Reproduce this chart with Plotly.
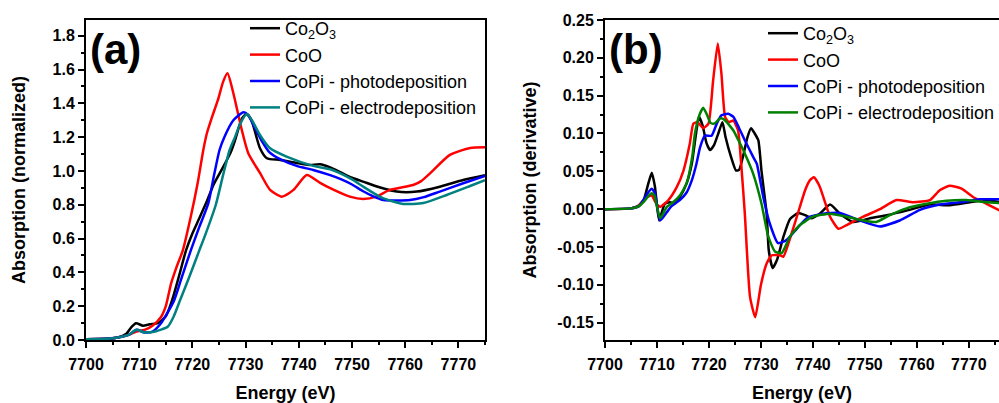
import plotly.graph_objects as go

# ---------------- Panel (a): normalized absorption ----------------
a_co2o3_x = [7700, 7704, 7706, 7707.5, 7708.5, 7709.4, 7710.7, 7712, 7713.5, 7715, 7716.2, 7717.5, 7718.8, 7720, 7721.3,
             7722.7, 7724, 7725.2, 7726.4, 7727.2, 7728, 7729.3, 7730.2, 7731.1, 7732.7, 7734, 7736.5, 7739.6, 7742,
             7744, 7746, 7748, 7750, 7752.1, 7755, 7758.4, 7762.2, 7766.5, 7770.9, 7775]
a_co2o3_y = [0.005, 0.008, 0.015, 0.035, 0.075, 0.099, 0.085, 0.093, 0.10, 0.14, 0.237, 0.38, 0.53, 0.63, 0.72,
             0.82, 0.92, 0.99, 1.06, 1.11, 1.18, 1.31, 1.337, 1.30, 1.134, 1.075, 1.065, 1.047, 1.035,
             1.04, 1.02, 0.99, 0.96, 0.937, 0.905, 0.878, 0.878, 0.907, 0.947, 0.975]

a_coo_x = [7700, 7704, 7706, 7708, 7709.5, 7711, 7712.5, 7714.1, 7715, 7716, 7717, 7718.2, 7719.7, 7721, 7722.05,
           7722.7, 7723.7, 7724.8, 7725.8, 7726.6, 7727.7, 7728.5, 7729.3, 7730.5, 7732.7, 7734.6, 7736.8, 7739,
           7741.5, 7744, 7746, 7749.6, 7752.1, 7754.6, 7757.1, 7761.5, 7763, 7764.7, 7768.4, 7772.2, 7775]
a_coo_y = [0.005, 0.008, 0.015, 0.03, 0.05, 0.06, 0.085, 0.136, 0.2, 0.335, 0.43, 0.53, 0.73, 0.93, 1.124,
           1.22, 1.32, 1.42, 1.53, 1.578, 1.46, 1.35, 1.24, 1.105, 0.988, 0.888, 0.848, 0.888,
           0.976, 0.93, 0.897, 0.848, 0.834, 0.848, 0.888, 0.917, 0.94, 0.987, 1.095, 1.136, 1.14]

a_photo_x = [7700, 7704, 7706, 7708, 7709.5, 7711, 7712.5, 7714.1, 7715.3, 7716.6, 7718, 7719.7, 7721.2, 7723,
             7724.1, 7725.1, 7726, 7727.7, 7729.6, 7730.5, 7731.5, 7733, 7734.5, 7736.5, 7739.6, 7742.7, 7745.9,
             7748, 7750, 7752.1, 7754, 7755.9, 7760.9, 7763.5, 7766.5, 7770.9, 7775]
a_photo_y = [0.005, 0.008, 0.015, 0.03, 0.06, 0.045, 0.05, 0.099, 0.16, 0.237, 0.37, 0.53, 0.66, 0.81,
             0.98, 1.124, 1.2, 1.30, 1.347, 1.33, 1.27, 1.18, 1.11, 1.07, 1.03, 1.006, 0.975,
             0.95, 0.92, 0.88, 0.85, 0.828, 0.828, 0.845, 0.878, 0.927, 0.97]

a_electro_x = [7700, 7704, 7706, 7708, 7709.5, 7711, 7713, 7715.4, 7716.5, 7717.7, 7719.5, 7721.3, 7722.4, 7724.4,
               7725.8, 7727, 7728, 7729, 7730.2, 7731.2, 7732.7, 7734.6, 7737.7, 7742.7, 7745.9, 7747.5, 7750,
               7752.1, 7754, 7755.9, 7759.7, 7763.4, 7767.8, 7772.2, 7775]
a_electro_y = [0.005, 0.008, 0.015, 0.03, 0.06, 0.045, 0.05, 0.08, 0.14, 0.237, 0.38, 0.53, 0.62, 0.8,
               0.98, 1.124, 1.2, 1.28, 1.337, 1.30, 1.213, 1.134, 1.085, 1.03, 1.01, 0.99, 0.95,
               0.907, 0.87, 0.838, 0.805, 0.81, 0.858, 0.911, 0.945]

# ---------------- Panel (b): derivative ----------------
b_co2o3_x = [7700, 7705, 7706.5, 7707.5, 7708.3, 7709, 7709.6, 7710.4, 7711.5, 7712.5, 7713.5, 7714.4, 7715.7, 7716.7,
             7717.6, 7718.1, 7718.8, 7719.5, 7720.2, 7721, 7721.8, 7722.6, 7723.2, 7724.2, 7725.2, 7725.8, 7726.6,
             7727.4, 7728.1, 7728.8, 7729.5, 7730.1, 7731.1, 7731.5, 7732.25, 7733.1, 7734.3, 7735.6, 7737.2,
             7738.5, 7739.7, 7741.3, 7743.3, 7745.2, 7747.8, 7751, 7754.2, 7758, 7762.5, 7766.3, 7770.2, 7773.4, 7776]
b_co2o3_y = [0, 0.001, 0.004, 0.013, 0.033, 0.048, 0.03, -0.015, 0.007, 0.009, 0.008, 0.016, 0.034, 0.06,
             0.104, 0.122, 0.11, 0.088, 0.078, 0.085, 0.1, 0.115, 0.095, 0.07, 0.051, 0.052, 0.071,
             0.095, 0.107, 0.1, 0.091, 0.051, -0.006, -0.054, -0.078, -0.067, -0.037, -0.013, -0.005,
             -0.008, -0.012, -0.006, 0.006, -0.006, -0.017, -0.012, -0.008, -0.002, 0.006, 0.005, 0.009, 0.012, 0.009]

b_coo_x = [7700, 7705, 7706.5, 7708, 7709, 7709.8, 7710.6, 7712.2, 7713.8, 7715.1, 7716.3, 7717, 7717.8, 7718.9,
           7719.9, 7720.8, 7721.7, 7722.4, 7723.1, 7723.8, 7724.7, 7725.6, 7726.2, 7726.9, 7727.9, 7728.9, 7730,
           7731.1, 7732.1, 7733.7, 7734.3, 7735.3, 7737, 7738.5, 7739.4, 7740.2, 7741.3, 7743.3, 7744.9, 7746.5,
           7749.7, 7752.9, 7756.1, 7759.3, 7762.5, 7764.4, 7766.3, 7768.6, 7770.8, 7773.4, 7776]
b_coo_y = [0, 0.001, 0.005, 0.016, 0.018, 0.008, 0.003, 0.012, 0.029, 0.051, 0.086, 0.113, 0.115, 0.107,
           0.113, 0.17, 0.219, 0.179, 0.122, 0.115, 0.117, 0.104, 0.06, -0.006, -0.116, -0.143, -0.1,
           -0.072, -0.061, -0.061, -0.063, -0.045, -0.008, 0.025, 0.038, 0.042, 0.03, -0.01, -0.026, -0.021,
           -0.01, 0.0, 0.012, 0.009, 0.012, 0.025, 0.031, 0.027, 0.016, 0.007, -0.002]

b_photo_x = [7700, 7705, 7706.5, 7707.4, 7708.3, 7709, 7709.6, 7710.6, 7711.9, 7712.8, 7714.4, 7715.7, 7716.7, 7717.6,
             7718.3, 7719.2, 7720.5, 7721.5, 7722.4, 7723.7, 7724.7, 7725.8, 7726.9, 7728.5, 7729.2, 7730.45,
             7731.7, 7733.3, 7734.9, 7736.9, 7738.8, 7742, 7745.2, 7749, 7752.9, 7756.7, 7760.6, 7764.4, 7768.3,
             7772.1, 7776]
b_photo_y = [0, 0.001, 0.004, 0.012, 0.022, 0.027, 0.021, -0.015, -0.004, 0.004, 0.012, 0.022, 0.038, 0.06,
             0.082, 0.097, 0.097, 0.113, 0.124, 0.126, 0.122, 0.107, 0.091, 0.069, 0.06, 0.016,
             -0.019, -0.045, -0.041, -0.026, -0.012, -0.006, -0.005, -0.015, -0.023, -0.015, -0.001, 0.006, 0.009,
             0.013, 0.013]

b_electro_x = [7700, 7705, 7706.5, 7707.5, 7708.3, 7709, 7709.5, 7710.6, 7711.9, 7713.1, 7714.4, 7715.7, 7716.8,
               7717.3, 7718.2, 7718.9, 7719.6, 7720.3, 7721, 7722.2, 7723, 7724.7, 7725.6, 7727, 7728.5, 7730.1,
               7731.4, 7732.7, 7734, 7735.6, 7737.5, 7740, 7743.3, 7746.5, 7749.7, 7752.2, 7754.8, 7758, 7761.9,
               7765.7, 7769.5, 7773.4, 7776]
b_electro_y = [0, 0.001, 0.004, 0.01, 0.017, 0.021, 0.018, -0.012, 0.003, 0.009, 0.018, 0.034, 0.07,
               0.1, 0.125, 0.134, 0.125, 0.114, 0.113, 0.12, 0.118, 0.104, 0.092, 0.072, 0.047, 0.0075,
               -0.036, -0.056, -0.058, -0.036, -0.021, -0.01, -0.006, -0.01, -0.015, -0.017, -0.008, 0.001, 0.007,
               0.011, 0.012, 0.009, 0.008]

# tick labels of the derivative axis (plain hyphen minus, as in the original)
b_ytick_vals = [-0.15, -0.10, -0.05, 0.0, 0.05, 0.10, 0.15, 0.20, 0.25]
b_ytick_text = ["-0.15", "-0.10", "-0.05", "0.00", "0.05", "0.10", "0.15", "0.20", "0.25"]

names = ["Co<sub>2</sub>O<sub>3</sub>", "CoO", "CoPi - photodeposition", "CoPi - electrodeposition"]
colors_a = ["#000000", "#ff0000", "#0000ff", "#008080"]
colors_b = ["#000000", "#ff0000", "#0000ff", "#008000"]

W, H = 999, 403
FONT = "Liberation Sans, Arial, sans-serif"

fig = go.Figure()
series_a = [(a_co2o3_x, a_co2o3_y), (a_coo_x, a_coo_y), (a_photo_x, a_photo_y), (a_electro_x, a_electro_y)]
series_b = [(b_co2o3_x, b_co2o3_y), (b_coo_x, b_coo_y), (b_photo_x, b_photo_y), (b_electro_x, b_electro_y)]

for (xs, ys), nm, c in zip(series_a, names, colors_a):
    fig.add_trace(go.Scatter(x=xs, y=ys, name=nm, mode="lines",
                             line=dict(color=c, width=2.5, shape="spline", smoothing=0.6),
                             xaxis="x", yaxis="y", legend="legend"))
for (xs, ys), nm, c in zip(series_b, names, colors_b):
    fig.add_trace(go.Scatter(x=xs, y=ys, name=nm, mode="lines",
                             line=dict(color=c, width=2.5, shape="spline", smoothing=0.5),
                             xaxis="x2", yaxis="y2", legend="legend2"))

ydom = [(H - 340) / H, (H - 20) / H]
common_axis = dict(showline=True, linecolor="black", linewidth=2, mirror=True, showgrid=False, zeroline=False,
                   ticks="outside", ticklen=6, tickwidth=2, tickcolor="black", automargin=False,
                   tickfont=dict(family=FONT, size=16, color="black", weight="bold"))
tfont = dict(family=FONT, size=18, weight="bold", color="black")

xa = dict(common_axis, domain=[86 / W, 485 / W], range=[7700, 7775], dtick=10, tick0=7700, ticklabelstandoff=3,
          minor=dict(ticks="outside", ticklen=3, tickwidth=2, dtick=5, tickcolor="black"),
          title=dict(text="Energy (eV)", font=tfont, standoff=14), anchor="y")
ya = dict(common_axis, domain=ydom, range=[0, 1.893], dtick=0.2, tick0=0, tickformat=".1f",
          minor=dict(ticks="outside", ticklen=3, tickwidth=2, dtick=0.1, tickcolor="black"),
          title=dict(text="Absorption (normalized)", font=tfont, standoff=22), anchor="x")
xb = dict(common_axis, domain=[605 / W, 1.0], range=[7700, 7775.8], dtick=10, tick0=7700, ticklabelstandoff=3,
          minor=dict(ticks="outside", ticklen=3, tickwidth=2, dtick=5, tickcolor="black"),
          title=dict(text="Energy (eV)", font=tfont, standoff=14), anchor="y2")
yb = dict(common_axis, domain=ydom, range=[-0.173, 0.25], tickmode="array",
          tickvals=b_ytick_vals, ticktext=b_ytick_text,
          minor=dict(ticks="outside", ticklen=3, tickwidth=2, dtick=0.025, tick0=0, tickcolor="black"),
          title=dict(text="Absorption (derivative)", font=tfont, standoff=16), anchor="x2")
yb["mirror"] = False

leg_common = dict(bgcolor="rgba(0,0,0,0)", borderwidth=0, xanchor="left", yanchor="top",
                  font=dict(family=FONT, size=18, color="black"), tracegroupgap=0,
                  itemclick=False)

fig.update_layout(
    width=W, height=H,
    margin=dict(l=0, r=0, t=0, b=0, autoexpand=False),
    paper_bgcolor="white", plot_bgcolor="white",
    xaxis=xa, yaxis=ya, xaxis2=xb, yaxis2=yb,
    showlegend=True,
    legend=dict(leg_common, x=245 / W, y=1 - 10 / H),
    legend2=dict(leg_common, x=763 / W, y=1 - 15 / H),
    annotations=[
        dict(text="<b>(a)</b>", x=88 / W, y=1 - 24 / H, xref="paper", yref="paper", xanchor="left",
             yanchor="top", showarrow=False, font=dict(family=FONT, size=42, color="black")),
        dict(text="<b>(b)</b>", x=607 / W, y=1 - 24 / H, xref="paper", yref="paper", xanchor="left",
             yanchor="top", showarrow=False, font=dict(family=FONT, size=42, color="black")),
    ],
)

fig.write_html("out.html", config={"displayModeBar": False},
               post_script="document.body.style.margin='0px';document.body.style.padding='0px';"
                           "document.body.style.overflow='hidden';")
